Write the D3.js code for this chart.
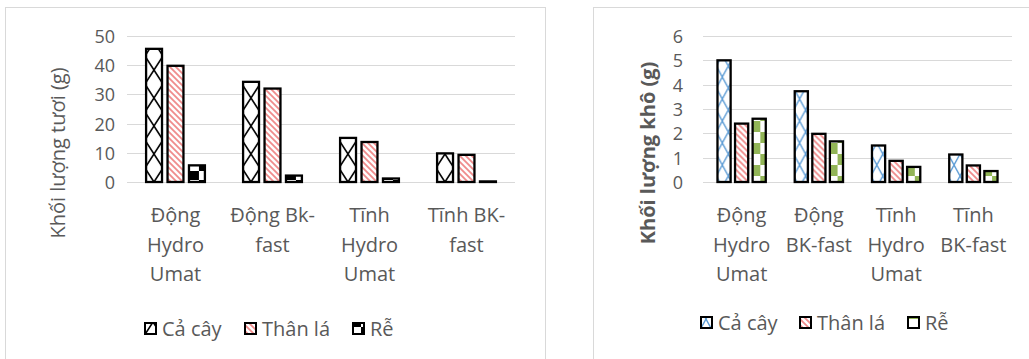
<!DOCTYPE html>
<html>
<head>
<meta charset="utf-8">
<script src="https://cdn.jsdelivr.net/npm/d3@7"></script>
<style>
  html, body { margin: 0; padding: 0; background: #fff; }
  svg { display: block; font-family: "Open Sans", "Noto Sans", sans-serif; }
</style>
</head>
<body>
<svg id="chart" width="1029" height="359"></svg>
<script>
// series + categories (both charts share them)
const seriesNames = ["Cả cây", "Thân lá", "Rễ"];
const categories = ["Động Hydro Umat", "Động Bk-fast", "Tĩnh Hydro Umat", "Tĩnh BK-fast"];

// wrapped category labels, as Excel broke them
const freshLabels = [["Động", "Hydro", "Umat"], ["Động Bk-", "fast"], ["Tĩnh", "Hydro", "Umat"], ["Tĩnh BK-", "fast"]];
const dryLabels = [["Động", "Hydro", "Umat"], ["Động", "BK-fast"], ["Tĩnh", "Hydro", "Umat"], ["Tĩnh", "BK-fast"]];

// fresh weight (g)
const freshCaCay = [45.6, 34.3, 15.1, 9.8];
const freshThanLa = [39.8, 32.0, 13.7, 9.3];
const freshRe = [5.7, 2.2, 1.2, 0.2];
const freshTicks = [0, 10, 20, 30, 40, 50];

// dry weight (g)
const dryCaCay = [5.0, 3.73, 1.5, 1.13];
const dryThanLa = [2.4, 1.98, 0.87, 0.68];
const dryRe = [2.6, 1.67, 0.62, 0.45];
const dryTicks = [0, 1, 2, 3, 4, 5, 6];

const svg = d3.select("#chart");
const textColor = "#595959";
const gridColor = "#d9d9d9";

// patterns (userSpaceOnUse, so they stay anchored to the page like in Excel)
const defs = svg.append("defs");

function lattice(id, color, w, h, sw) {
  const p = defs.append("pattern").attr("id", id)
    .attr("patternUnits", "userSpaceOnUse").attr("width", w).attr("height", h);
  p.append("rect").attr("width", w).attr("height", h).attr("fill", "#fff");
  p.append("path")
    .attr("d", `M0,${h} L${w / 2},0 L${w},${h} M0,0 L${w / 2},${h} L${w},0`)
    .attr("stroke", color).attr("stroke-width", sw).attr("fill", "none");
}
function stripes(id, color) {
  const p = defs.append("pattern").attr("id", id)
    .attr("patternUnits", "userSpaceOnUse").attr("width", 6).attr("height", 6);
  p.append("rect").attr("width", 6).attr("height", 6).attr("fill", "#fff");
  p.append("path").attr("d", "M0,0 L6,6 M-1,5 L1,7 M5,-1 L7,1")
    .attr("stroke", color).attr("stroke-width", 1.8);
}
function checker(id, color, s) {
  const p = defs.append("pattern").attr("id", id)
    .attr("patternUnits", "userSpaceOnUse").attr("width", s * 2).attr("height", s * 2);
  p.append("rect").attr("width", s * 2).attr("height", s * 2).attr("fill", "#fff");
  p.append("rect").attr("width", s).attr("height", s).attr("fill", color);
  p.append("rect").attr("x", s).attr("y", s).attr("width", s).attr("height", s).attr("fill", color);
}

lattice("latBlack", "#000", 36, 28, 1.6);
lattice("latBlue", "#5b9bd5", 24, 22, 1.4);
stripes("redStripe", "#ef8a8a");
checker("chkBlack", "#000", 9);
checker("chkGreen", "#92b557", 11);

function drawChart(cfg) {
  const g = svg.append("g");

  // chart frame
  g.append("rect")
    .attr("x", cfg.box[0] + 0.5).attr("y", cfg.box[1] + 0.5)
    .attr("width", cfg.box[2]).attr("height", cfg.box[3])
    .attr("fill", "none").attr("stroke", gridColor);

  const x = d3.scaleBand().domain(categories)
    .range([cfg.left, cfg.right]).paddingInner(cfg.pad).paddingOuter(cfg.pad / 2);
  const xs = d3.scaleBand().domain(seriesNames)
    .range([0, x.bandwidth()]).paddingInner(cfg.innerPad);
  const y = d3.scaleLinear().domain([0, d3.max(cfg.ticks)]).range([cfg.bottom, cfg.top]);

  // gridlines
  g.append("g").selectAll("line").data(cfg.ticks).join("line")
    .attr("x1", cfg.left).attr("x2", cfg.right)
    .attr("y1", (d) => Math.round(y(d)) + 0.5).attr("y2", (d) => Math.round(y(d)) + 0.5)
    .attr("stroke", gridColor).attr("stroke-width", 1.2);

  // y tick labels
  g.append("g").selectAll("text").data(cfg.ticks).join("text")
    .attr("x", cfg.tickX).attr("y", (d) => y(d))
    .attr("text-anchor", "end").attr("dominant-baseline", "central")
    .attr("font-size", 18).attr("fill", textColor)
    .text((d) => d);

  // y title
  g.append("text")
    .attr("transform", `translate(${cfg.titleX},${cfg.titleY}) rotate(-90)`)
    .attr("text-anchor", "middle").attr("dominant-baseline", "central")
    .attr("font-size", 20).attr("font-weight", cfg.titleBold ? "bold" : "normal")
    .attr("fill", textColor)
    .text(cfg.title);

  // bars
  const rows = categories.map((c, i) => ({
    cat: c,
    vals: cfg.series.map((s, k) => ({ name: seriesNames[k], v: s[i], fill: cfg.fills[k] })),
  }));
  const sw = 2.3;
  g.append("g").selectAll("g").data(rows).join("g")
    .attr("transform", (d) => `translate(${x(d.cat)},0)`)
    .selectAll("rect").data((d) => d.vals).join("rect")
    .attr("x", (d) => xs(d.name) + sw / 2)
    .attr("width", xs.bandwidth() - sw)
    .attr("y", (d) => y(d.v))
    .attr("height", (d) => y(0) - y(d.v))
    .attr("fill", (d) => `url(#${d.fill})`)
    .attr("stroke", "#000").attr("stroke-width", sw);

  // category labels
  g.append("g").selectAll("text").data(cfg.labels).join("text")
    .attr("text-anchor", "middle").attr("font-size", 20).attr("fill", textColor)
    .attr("transform", (d, i) => `translate(${x(categories[i]) + x.bandwidth() / 2},${cfg.labelY})`)
    .selectAll("tspan").data((d) => d).join("tspan")
    .attr("x", 0).attr("y", (d, i) => i * 29.5)
    .text((d) => d);

  // legend
  const lg = g.append("g").selectAll("g").data(seriesNames).join("g")
    .attr("transform", (d, i) => `translate(${cfg.legendX[i]},${cfg.legendY})`);
  lg.append("rect")
    .attr("x", 1).attr("y", -13).attr("width", 11).attr("height", 11)
    .attr("fill", (d, i) => `url(#${cfg.fills[i]})`)
    .attr("stroke", "#000").attr("stroke-width", 2);
  lg.append("text")
    .attr("x", 18).attr("y", 0).attr("font-size", 20).attr("fill", textColor)
    .text((d) => d);
}

drawChart({
  box: [5, 7, 540, 380],
  left: 127, right: 515, top: 36, bottom: 182,
  pad: 0.37, innerPad: 0.15,
  ticks: freshTicks, tickX: 115,
  title: "Khối lượng tươi (g)", titleX: 57, titleY: 153, titleBold: false,
  series: [freshCaCay, freshThanLa, freshRe],
  fills: ["latBlack", "redStripe", "chkBlack"],
  labels: freshLabels, labelY: 222,
  legendX: [144, 244, 352], legendY: 336,
});

drawChart({
  box: [593, 7, 460, 380],
  left: 703, right: 1012, top: 36, bottom: 182,
  pad: 0.345, innerPad: 0.12,
  ticks: dryTicks, tickX: 683,
  title: "Khối lượng khô (g)", titleX: 647, titleY: 153, titleBold: true,
  series: [dryCaCay, dryThanLa, dryRe],
  fills: ["latBlue", "redStripe", "chkGreen"],
  labels: dryLabels, labelY: 222,
  legendX: [700, 799, 907], legendY: 330,
});
</script>
</body>
</html>
